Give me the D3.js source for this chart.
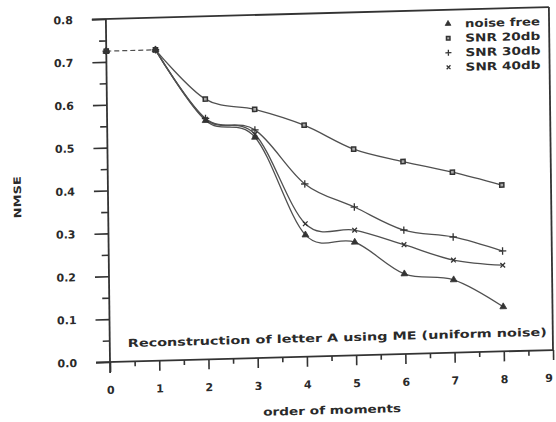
<!DOCTYPE html>
<html>
<head>
<meta charset="utf-8">
<script src="https://cdn.jsdelivr.net/npm/d3@7"></script>
<style>
  body { margin: 0; background: #fff; }
  text { font-family: "DejaVu Sans", sans-serif; font-weight: bold; fill: #2a2a2a; }
</style>
</head>
<body>
<div id="chart"></div>
<script>
// values
const orders = [0, 1, 2, 3, 4, 5, 6, 7, 8];
const noiseFree = [0.725, 0.725, 0.557, 0.515, 0.284, 0.264, 0.187, 0.170, 0.104];
const snr20 = [0.725, 0.725, 0.607, 0.580, 0.540, 0.481, 0.449, 0.421, 0.388];
const snr30 = [0.725, 0.725, 0.562, 0.532, 0.403, 0.346, 0.289, 0.270, 0.234];
const snr40 = [0.725, 0.725, 0.560, 0.522, 0.310, 0.292, 0.255, 0.216, 0.201];
const seriesNames = ["noise free", "SNR 20db", "SNR 30db", "SNR 40db"];
const yTicks = [0, 0.1, 0.2, 0.3, 0.4, 0.5, 0.6, 0.7, 0.8];
const xTicks = [0, 1, 2, 3, 4, 5, 6, 7, 8, 9];

const width = 556, height = 422;
const ink = "#505050";

const svg = d3.select("#chart").append("svg")
    .attr("width", width)
    .attr("height", height);

// the scan is slightly skewed, so the whole plot sits in a sheared group
const g = svg.append("g")
    .attr("transform", "matrix(1,-0.027,0.012,1,110,362)");

const x = d3.scaleLinear().domain([0, 9]).range([0, 443]);
const y = d3.scaleLinear().domain([0, 0.8]).range([0, -343]);

// y axis
g.append("g")
    .call(d3.axisLeft(y).tickValues(yTicks).tickSize(14).tickPadding(19).tickFormat(d3.format(".1f")));
g.append("g")
    .call(d3.axisLeft(y).tickValues(d3.range(0.05, 0.8, 0.1)).tickSize(7).tickFormat(""));

// x axis
const xAxis = g.append("g")
    .call(d3.axisBottom(x).tickValues(xTicks).tickSize(10).tickPadding(14));
g.append("g")
    .call(d3.axisBottom(x).tickValues(d3.range(0.5, 9, 1)).tickSize(5).tickFormat(""));

g.selectAll(".domain").remove();
g.selectAll(".tick line").attr("stroke", "#333").attr("stroke-width", 1.6);
g.selectAll(".tick text").attr("font-size", 11).attr("font-weight", "bold")
    .attr("font-family", "DejaVu Sans").attr("fill", "#2a2a2a");
// last label sits on the page edge, keep it inside
xAxis.selectAll(".tick text").filter(d => d === 9).attr("text-anchor", "end").attr("dx", -1);

// frame
const frame = g.append("g").attr("stroke", "#333").attr("stroke-width", 1.8).attr("fill", "none");
frame.append("line").attr("x1", x(0)).attr("x2", x(0)).attr("y1", y(0) + 11).attr("y2", y(0.8));
frame.append("line").attr("x1", x(0) - 14).attr("x2", x(9)).attr("y1", y(0)).attr("y2", y(0));
frame.append("line").attr("x1", x(0) - 14).attr("x2", x(9)).attr("y1", y(0.8)).attr("y2", y(0.8));
frame.append("line").attr("x1", x(9)).attr("x2", x(9)).attr("y1", y(0.8)).attr("y2", y(0));

// series
const series = [noiseFree, snr20, snr30, snr40];
const symbols = [d3.symbolTriangle, d3.symbolSquare2, d3.symbolPlus, d3.symbolTimes];
const symSizes = [20, 22, 20, 16];
const symFill = ["#333", "#aaa", "none", "none"];
const symStroke = [0.8, 1.5, 1.3, 1.3];

const line = d3.line()
    .x(d => x(d[0]))
    .y(d => y(d[1]))
    .curve(d3.curveCardinal.tension(0));

// dashed start (orders 0-1), shared by all series
g.append("path")
    .attr("d", d3.line().x(d => x(d[0])).y(d => y(d[1]))(orders.slice(0, 2).map((o, i) => [o, snr20[i]])))
    .attr("fill", "none")
    .attr("stroke", ink)
    .attr("stroke-width", 1.2)
    .attr("stroke-dasharray", "5,3");

series.forEach(vals => {
    const pts = orders.map((o, i) => [o, vals[i]]);
    g.append("path")
        .attr("d", line(pts.slice(1)))
        .attr("fill", "none")
        .attr("stroke", ink)
        .attr("stroke-width", 1.3);
});

series.forEach((vals, si) => {
    const sym = d3.symbol().type(symbols[si]).size(symSizes[si]);
    g.append("g").selectAll("path")
        .data(orders.map((o, i) => [o, vals[i]]))
        .join("path")
        .attr("transform", d => `translate(${x(d[0])},${y(d[1])})`)
        .attr("d", sym)
        .attr("fill", symFill[si])
        .attr("stroke", "#333")
        .attr("stroke-width", symStroke[si]);
});

// legend
const legend = g.append("g");
seriesNames.forEach((name, i) => {
    const row = legend.append("g")
        .attr("transform", `translate(342,${-329 + i * 14.5})`);
    row.append("path")
        .attr("d", d3.symbol().type(symbols[i]).size(symSizes[i] * 0.7))
        .attr("fill", symFill[i])
        .attr("stroke", "#333")
        .attr("stroke-width", symStroke[i]);
    row.append("text")
        .attr("x", 17)
        .attr("y", 4)
        .attr("font-size", 11)
        .attr("textLength", 75)
        .attr("lengthAdjust", "spacingAndGlyphs")
        .text(name);
});

// annotation inside the plot
g.append("text")
    .attr("x", 18)
    .attr("y", -14.5)
    .attr("font-size", 11)
    .attr("textLength", 419)
    .attr("lengthAdjust", "spacingAndGlyphs")
    .text("Reconstruction of letter A using ME (uniform noise)");

// axis titles
g.append("text")
    .attr("x", x(4.5))
    .attr("y", 58)
    .attr("text-anchor", "middle")
    .attr("font-size", 11)
    .attr("textLength", 138)
    .attr("lengthAdjust", "spacingAndGlyphs")
    .text("order of moments");

g.append("text")
    .attr("transform", `translate(-87,${y(0.39)}) rotate(-90)`)
    .attr("text-anchor", "middle")
    .attr("font-size", 10)
    .attr("textLength", 42)
    .attr("lengthAdjust", "spacingAndGlyphs")
    .text("NMSE");
</script>
</body>
</html>
